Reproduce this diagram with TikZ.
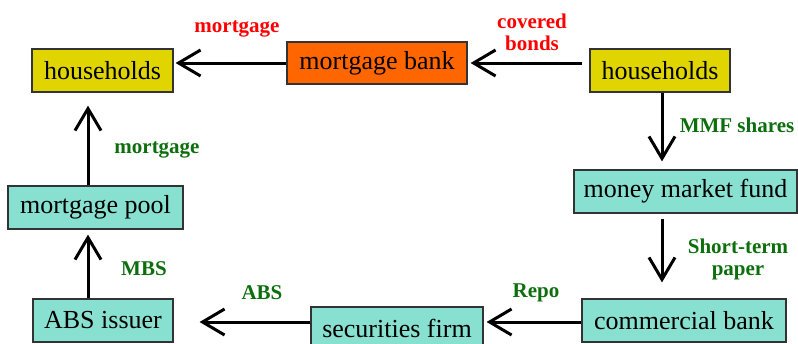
\documentclass[tikz,border=0pt]{standalone}
\usepackage{fontspec}
\setmainfont{Liberation Serif}
\usetikzlibrary{arrows.meta}
\definecolor{hhyellow}{RGB}{224,213,0}
\definecolor{bankorange}{RGB}{255,102,0}
\definecolor{boxteal}{RGB}{136,224,208}
\definecolor{lblred}{RGB}{255,0,0}
\definecolor{lblgreen}{RGB}{12,110,12}
\tikzset{
  box/.style={draw=black!80, line width=1.2pt, inner sep=0pt, font=\fontsize{26}{30}\selectfont},
  yellowbox/.style={box, fill=hhyellow},
  orangebox/.style={box, fill=bankorange},
  tealbox/.style={box, fill=boxteal},
  arr/.style={line width=3pt, -{Straight Barb[length=22pt,width=26pt,line width=3pt]}},
  redlbl/.style={text=lblred, font=\fontsize{21}{22}\selectfont\bfseries, align=center, inner sep=0pt},
  greenlbl/.style={text=lblgreen, font=\fontsize{21}{22}\selectfont\bfseries, align=center, inner sep=0pt},
}
\begin{document}
\begin{tikzpicture}[x=1pt,y=-1pt]
\useasboundingbox (0,0) rectangle (798,343);
\clip (0,0) rectangle (798,343);
\node[yellowbox, minimum width=141pt, minimum height=43pt] (hhL) at (102.5,70.5) {households};
\node[orangebox, minimum width=180pt, minimum height=42pt] (mbank) at (377,63) {mortgage bank};
\node[yellowbox, minimum width=140pt, minimum height=43pt] (hhR) at (660,70.5) {households};
\node[tealbox, minimum width=175pt, minimum height=43pt] (pool) at (95.5,207.5) {mortgage pool};
\node[tealbox, minimum width=140pt, minimum height=43pt] (abs) at (103,320.5) {ABS issuer};
\node[tealbox, minimum width=172pt, minimum height=43pt] (sec) at (397,328.5) {securities firm};
\node[tealbox, minimum width=204pt, minimum height=43pt] (cbank) at (684,320.5) {commercial bank};
\node[tealbox, minimum width=223pt, minimum height=43pt] (mmf) at (685.5,191.5) {money market fund};

\coordinate (hx) at (662,0);
\coordinate (lx) at (88,0);

% top row
\draw[arr, shorten >=2pt] (mbank.west) -- (hhL.east |- mbank.west);
\draw[arr, shorten <=7pt, shorten >=3pt] (hhR.west |- mbank.east) -- (mbank.east);
% right column
\draw[arr, shorten >=8pt] (hx |- hhR.south) -- (hx |- mmf.north);
\draw[arr, shorten <=5pt, shorten >=16pt] (hx |- mmf.south) -- (hx |- cbank.north);
% bottom row
\draw[arr, shorten >=3pt] (cbank.west) ++(0,1.5) -- (sec.east |- 0,322);
\draw[arr, shorten >=26pt] (sec.west |- 0,322) -- (abs.east |- 0,322);
% left column
\draw[arr, shorten >=5pt] (lx |- abs.north) -- (lx |- pool.south);
\draw[arr, shorten >=13pt] (lx |- pool.north) -- (lx |- hhL.south);

% labels
\node[redlbl] (l1) at (237,29) {mortgage};
\node[redlbl] (l2) at (532,32.5) {covered\\bonds};
\node[greenlbl] (l3) at (737,125) {MMF shares};
\node[greenlbl] (l4) at (738,259.5) {Short-term\\paper};
\node[greenlbl] (l5) at (536,293) {Repo};
\node[greenlbl] (l6) at (262,293) {ABS};
\node[greenlbl] (l7) at (144,269) {MBS};
\node[greenlbl] (l8) at (157,150) {mortgage};
\end{tikzpicture}
\end{document}
